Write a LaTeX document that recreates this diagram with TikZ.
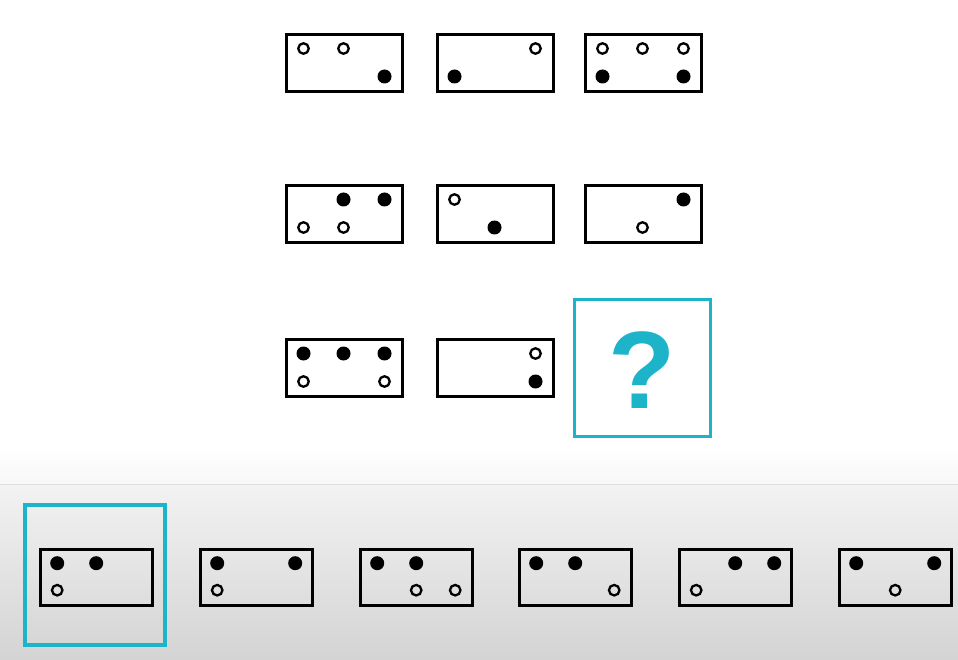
\documentclass[tikz,border=0pt]{standalone}
\usepackage{fontspec}
\setmainfont{Liberation Sans}
\usetikzlibrary{calc}
\definecolor{qcyan}{HTML}{1DB4CA}
\tikzset{
  cellbox/.style={draw=black, line width=2.8pt, rectangle, inner sep=0pt, outer sep=0pt, anchor=north west},
  fd/.style={circle, fill=black, draw=none, minimum size=14pt, inner sep=0pt},
  od/.style={circle, fill=white, draw=black, line width=2.3pt, minimum size=10.5pt, inner sep=0pt},
  odg/.style={od, fill=none},
}
\newcommand\mkcell[8]{% name, x, y, w, h, filled list, open list, open style
  \node[cellbox, minimum width=#4, minimum height=#5] (#1) at (#2,#3) {};
  \foreach \a/\b [count=\i] in {#6} {\node[fd] (#1f\i) at ($(#1.north west)+(\a,\b)$) {};}
  \foreach \a/\b [count=\i] in {#7} {\node[#8] (#1o\i) at ($(#1.north west)+(\a,\b)$) {};}
}
\begin{document}
\begin{tikzpicture}[x=1pt,y=-1pt]
\useasboundingbox (0,0) rectangle (958,660);
% background
\fill[white] (0,0) rectangle (958,660);
\fill[top color=white, bottom color=black!3] (0,445) rectangle (958,484);
\fill[top color=black!5, bottom color=black!17] (0,485) rectangle (958,660);
\draw[black!13, line width=1.2pt] (0,484.5) -- (958,484.5);
% matrix cells (cols 17,57,98 ; rows 14,42)
\mkcell{a}{286.5}{34.5}{116}{57}{98/42}{17/14,57/14}{od}
\mkcell{b}{437.5}{34.5}{116}{57}{17/42}{98/14}{od}
\mkcell{c}{585.5}{34.5}{116}{57}{17/42,98/42}{17/14,57/14,98/14}{od}
\mkcell{d}{286.5}{185.5}{116}{57}{57/14,98/14}{17/42,57/42}{od}
\mkcell{e}{437.5}{185.5}{116}{57}{57/42}{17/14}{od}
\mkcell{f}{585.5}{185.5}{116}{57}{98/14}{57/42}{od}
\mkcell{g}{286.5}{339.5}{116}{57}{17/14,57/14,98/14}{17/42,98/42}{od}
\mkcell{h}{437.5}{339.5}{116}{57}{98/42}{98/14}{od}
% question box
\node[draw=qcyan, line width=3pt, fill=white, minimum width=136pt, minimum height=137pt, inner sep=0pt, outer sep=0pt, anchor=north west] (q) at (574.5,299.5) {};
\node[text=qcyan, font=\bfseries\fontsize{110}{110}\selectfont, inner sep=0pt, anchor=base] (qm) at (642,408) {?};
% selected option frame
\node[draw=qcyan, line width=3.5pt, minimum width=140pt, minimum height=140pt, inner sep=0pt, outer sep=0pt, anchor=north west] (sel) at (25,505) {};
% options (cols 17,56,95 ; rows 14,41)
\mkcell{o1}{40.2}{549.2}{112}{56}{17/14,56/14}{17/41}{odg}
\mkcell{o2}{200.2}{549.2}{112}{56}{17/14,95/14}{17/41}{odg}
\mkcell{o3}{360.2}{549.2}{112}{56}{17/14,56/14}{56/41,95/41}{odg}
\mkcell{o4}{519.2}{549.2}{112}{56}{17/14,56/14}{95/41}{odg}
\mkcell{o5}{679.2}{549.2}{112}{56}{56/14,95/14}{17/41}{odg}
\mkcell{o6}{839.2}{549.2}{112}{56}{17/14,95/14}{56/41}{odg}
\end{tikzpicture}
\end{document}
